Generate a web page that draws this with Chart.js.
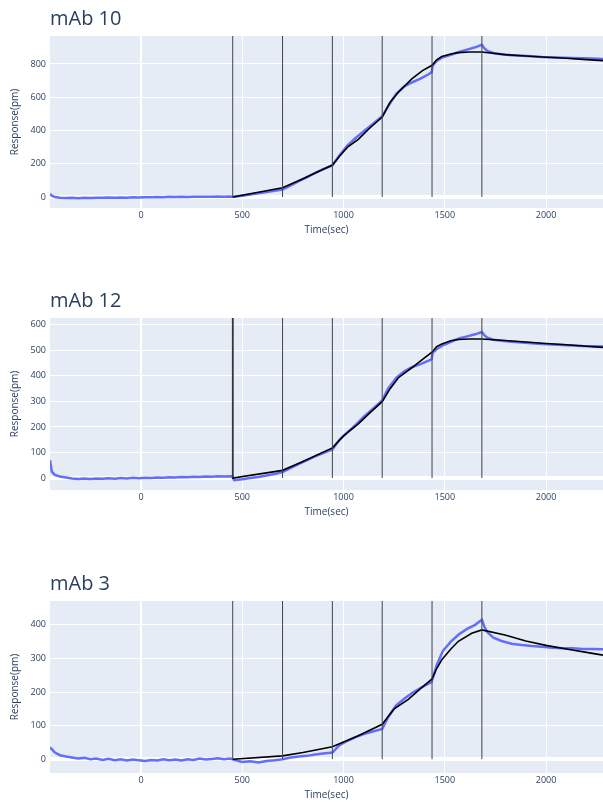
<!DOCTYPE html>
<html lang="en">
<head>
  <meta charset="UTF-8">
  <title>mAb binding curves</title>
  <script src="https://cdn.jsdelivr.net/npm/chart.js"></script>
  <style>
    body { margin: 0; background: #fff; font-family: 'Open Sans', sans-serif; }
    .panel { position: absolute; left: 0; width: 603px; height: 240px; }
  </style>
</head>
<body>
  <div class="panel" style="top:0px"><canvas id="c10" width="603" height="240"></canvas></div>
  <div class="panel" style="top:282px"><canvas id="c12" width="603" height="240"></canvas></div>
  <div class="panel" style="top:565px"><canvas id="c3" width="603" height="240"></canvas></div>

  <script>
    // injection boundaries (sec)
    const stepTimes = [453, 699, 945, 1191, 1437, 1683];

    // axis ticks
    const xTicks = [0, 500, 1000, 1500, 2000];
    const yTicks10 = [0, 200, 400, 600, 800];
    const yTicks12 = [0, 100, 200, 300, 400, 500, 600];
    const yTicks3 = [0, 100, 200, 300, 400];

    // measured sensorgram, shared time base (sec)
    const rawTime = [-449, -440, -425, -400, -370, -340, -310, -280, -250, -220, -190, -160, -130, -100, -70, -40, -10,
      20, 50, 80, 110, 140, 170, 200, 230, 260, 290, 320, 350, 380, 410, 440, 452, 460, 500, 540, 580, 620, 660, 699,
      740, 780, 820, 860, 900, 945, 980, 1020, 1060, 1100, 1140, 1191, 1220, 1260, 1300, 1340, 1380, 1420, 1435, 1440,
      1460, 1490, 1530, 1570, 1610, 1650, 1683, 1695, 1710, 1740, 1780, 1830, 1880, 1930, 1980, 2030, 2080, 2130,
      2180, 2230, 2281];

    const raw10 = [18, 8, 0, -4, -6, -5, -7, -5, -6, -4, -5, -3, -5, -3, -4, -2, -3,
      -1, -2, 0, -1, 1, 0, 1, 0, 2, 1, 2, 1, 3, 2, 3, 2, 1, 8, 15, 22, 30, 38, 45,
      70, 95, 120, 145, 168, 190, 250, 310, 355, 395, 435, 485, 545, 620, 665, 690, 712, 738, 750, 790,
      818, 840, 855, 872, 886, 900, 915, 895, 878, 866, 858, 852, 849, 846, 842, 840, 838, 836,
      834, 832, 830];

    const raw12 = [70, 25, 12, 6, 2, -2, -4, -2, -4, -2, -3, -1, -3, 0, -2, 1, -1,
      1, 0, 2, 1, 3, 2, 4, 3, 5, 4, 6, 5, 7, 6, 7, 6, -8, -5, 0, 4, 10, 16, 23,
      40, 55, 70, 85, 98, 112, 150, 180, 208, 240, 268, 304, 350, 392, 418, 435, 446, 460, 465, 490,
      505, 520, 534, 547, 555, 563, 572, 560, 550, 542, 538, 534, 531, 528, 525, 523, 521, 519,
      517, 516, 515];

    const raw3 = [35, 30, 20, 12, 8, 5, 2, 4, 0, 2, -2, 1, -3, 0, -4, -1, -3,
      -5, -2, -4, 0, -3, -1, -4, 0, -2, 2, -1, 1, 3, 0, 2, 0, -2, -8, -6, -10, -5, -3, 0,
      5, 8, 10, 14, 17, 20, 42, 55, 66, 75, 82, 90, 125, 160, 180, 198, 212, 225, 230, 240,
      280, 322, 350, 372, 388, 400, 415, 395, 378, 362, 352, 344, 340, 337, 335, 332, 330, 330,
      328, 328, 327];

    // fitted model curves
    const fitTime10 = [453, 699, 800, 945, 980, 1020, 1073, 1130, 1191, 1230, 1271, 1337, 1390, 1437, 1460, 1485,
      1530, 1567, 1620, 1683, 1797, 1900, 2000, 2100, 2200, 2281];
    const fit10 = [0, 56, 110, 192, 245, 300, 347, 415, 481, 570, 630, 710, 760, 792, 825, 845,
      860, 868, 872, 872, 856, 848, 840, 834, 826, 820];

    const fitTime12 = [453, 453, 699, 800, 945, 1000, 1073, 1130, 1191, 1230, 1271, 1337, 1390, 1437, 1460, 1485,
      1530, 1567, 1620, 1683, 1797, 1900, 2000, 2100, 2200, 2281];
    const fit12 = [1000, 0, 30, 65, 118, 165, 212, 255, 299, 350, 393, 432, 465, 493, 515, 525,
      538, 543, 545, 545, 539, 533, 527, 522, 516, 512];

    const fitTime3 = [453, 699, 800, 945, 1073, 1191, 1250, 1320, 1380, 1437, 1460, 1485, 1530, 1567, 1633, 1683,
      1797, 1900, 2000, 2100, 2200, 2281];
    const fit3 = [0, 10, 20, 37, 70, 104, 150, 178, 210, 239, 270, 296, 328, 351, 375, 385,
      370, 352, 339, 328, 318, 310];

    const xRange = [-449, 2281];

    const txt = '#2a3f5f';
    const fam = "'Open Sans', sans-serif";

    const plotBg = {
      id: 'plotBg',
      beforeDraw(chart) {
        const a = chart.chartArea, c = chart.ctx;
        c.save();
        c.fillStyle = '#e5ecf6';
        c.fillRect(a.left, a.top, a.right - a.left, a.bottom - a.top);
        c.restore();
      }
    };

    const pts = (xs, ys) => xs.map((x, i) => ({ x, y: ys[i] }));
    const fixTicks = list => s => { s.ticks = list.map(v => ({ value: v })); };
    const plain = v => String(v);

    function makePanel(id, title, raw, fitX, fitY, yMin, yMax, yTicks) {
      const vlines = [];
      stepTimes.forEach(t => {
        vlines.push({ x: t, y: 0 }, { x: t, y: yMax }, { x: t, y: null });
      });

      new Chart(document.getElementById(id), {
        type: 'line',
        data: {
          datasets: [
            { data: pts(rawTime, raw), borderColor: '#636efa', borderWidth: 2.5, pointRadius: 0, tension: 0, order: 3 },
            { data: pts(fitX, fitY), borderColor: '#000', borderWidth: 1.6, pointRadius: 0, tension: 0, order: 2 },
            { data: vlines, borderColor: '#444', borderWidth: 1, pointRadius: 0, spanGaps: false, order: 1 }
          ]
        },
        options: {
          responsive: false,
          animation: false,
          layout: { padding: 0 },
          plugins: {
            legend: { display: false },
            tooltip: { enabled: false },
            title: {
              display: true, text: title, align: 'start', fullSize: false, color: txt,
              font: { family: fam, size: 20, weight: 'normal' },
              padding: { top: 7, bottom: 5 }
            }
          },
          scales: {
            x: {
              type: 'linear', min: xRange[0], max: xRange[1],
              border: { display: false },
              grid: { color: '#fff', lineWidth: c => (c.tick && c.tick.value === 0 ? 2 : 1), drawTicks: false },
              ticks: { padding: 2, color: txt, font: { family: fam, size: 9 }, callback: plain },
              afterBuildTicks: fixTicks(xTicks),
              title: { display: true, text: 'Time(sec)', color: txt, font: { family: fam, size: 10 }, padding: { top: 0, bottom: 4 } },
              afterFit: s => { s.height = 32; s.paddingLeft = 0; s.paddingRight = 0; }
            },
            y: {
              min: yMin, max: yMax,
              border: { display: false },
              grid: { color: '#fff', lineWidth: c => (c.tick && c.tick.value === 0 ? 4 : 1), drawTicks: false },
              ticks: { padding: 4, color: txt, font: { family: fam, size: 9 }, callback: plain },
              afterBuildTicks: fixTicks(yTicks),
              title: { display: true, text: 'Response(pm)', color: txt, font: { family: fam, size: 10 }, padding: { top: 9, bottom: 0 } },
              afterFit: s => { s.width = 50; s.paddingTop = 0; s.paddingBottom = 0; }
            }
          }
        },
        plugins: [plotBg]
      });
    }

    makePanel('c10', 'mAb 10', raw10, fitTime10, fit10, -66, 968, yTicks10);
    makePanel('c12', 'mAb 12', raw12, fitTime12, fit12, -47, 627, yTicks12);
    makePanel('c3', 'mAb 3', raw3, fitTime3, fit3, -41, 471, yTicks3);
  </script>
</body>
</html>
